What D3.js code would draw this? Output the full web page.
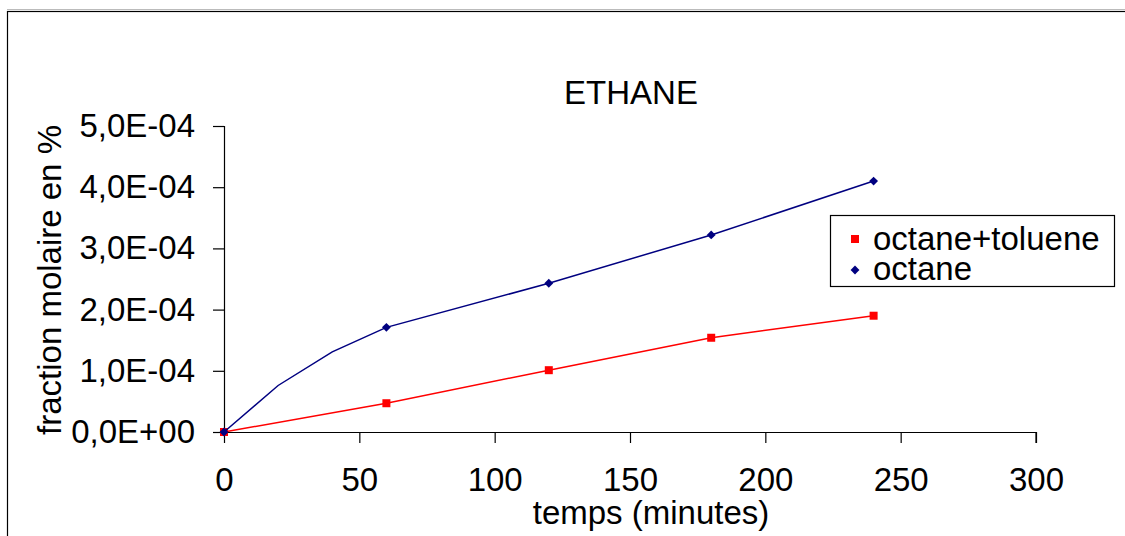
<!DOCTYPE html>
<html>
<head>
<meta charset="utf-8">
<script src="https://cdn.jsdelivr.net/npm/d3@7"></script>
<style>
  html, body { margin: 0; padding: 0; background: #fff; }
  svg { display: block; }
  text { font-family: "Liberation Sans", Arial, sans-serif; fill: #000; }
</style>
</head>
<body>
<svg id="chart" width="1125" height="536"></svg>
<script>
// ---- data ----
const title = "ETHANE";
const xLabel = "temps (minutes)";
const yLabel = "fraction molaire en %";
const xTicks = [0, 50, 100, 150, 200, 250, 300];
const yTicks = [0, 1e-4, 2e-4, 3e-4, 4e-4, 5e-4];
const yTickLabels = ["0,0E+00", "1,0E-04", "2,0E-04", "3,0E-04", "4,0E-04", "5,0E-04"];
const sampleTimes = [0, 60, 120, 180, 240];           // times with a plotted marker
const tolueneTimes = [0, 60, 120, 180, 240];
const tolueneValues = [0, 0.47e-4, 1.01e-4, 1.54e-4, 1.90e-4];
const octaneTimes = [0, 20, 40, 60, 120, 180, 240];
const octaneValues = [0, 0.76e-4, 1.31e-4, 1.71e-4, 2.43e-4, 3.22e-4, 4.10e-4];
const seriesNames = ["octane+toluene", "octane"];

// ---- layout ----
const svg = d3.select("#chart");
const FS = 33;
const x = d3.scaleLinear().domain([0, 300]).range([224, 1036]);
const y = d3.scaleLinear().domain([0, 5e-4]).range([432, 126]);

// outer frame
svg.append("line").attr("x1", 7).attr("x2", 1125).attr("y1", 9.5).attr("y2", 9.5)
  .attr("stroke", "#bbb").attr("stroke-width", 1);
svg.append("rect").attr("x", 7.5).attr("y", 11.5).attr("width", 1140).attr("height", 600)
  .attr("fill", "none").attr("stroke", "#000").attr("stroke-width", 1.2);

// title
svg.append("text").attr("x", 631).attr("y", 104).attr("text-anchor", "middle")
  .style("font-size", FS + "px").text(title);

// axes
const xAxis = d3.axisBottom(x).tickValues(xTicks).tickSize(11).tickPadding(25);
const gx = svg.append("g").attr("transform", "translate(0,432)").call(xAxis);
gx.select(".domain").attr("d", `M${x(0)},0.5H${x(300)}V11`).attr("stroke", "#000").attr("stroke-width", 1.2);
gx.selectAll(".tick line").attr("stroke", "#000").attr("stroke-width", 1.2);
gx.selectAll(".tick text").style("font-size", FS + "px").style("font-family", "Liberation Sans, Arial, sans-serif")
  .attr("fill", "#000").attr("dy", "0.71em");

const yAxis = d3.axisLeft(y).tickValues(yTicks).tickSize(11).tickPadding(18)
  .tickFormat((d, i) => yTickLabels[i]);
const gy = svg.append("g").attr("transform", "translate(224,0)").call(yAxis);
gy.select(".domain").attr("d", `M0.5,${y(5e-4)}V${y(0)}`).attr("stroke", "#000").attr("stroke-width", 1.2);
gy.selectAll(".tick line").attr("stroke", "#000").attr("stroke-width", 1.2);
gy.selectAll(".tick text").style("font-size", FS + "px").style("font-family", "Liberation Sans, Arial, sans-serif")
  .attr("fill", "#000");

// axis titles
svg.append("text").attr("x", 651).attr("y", 524).attr("text-anchor", "middle")
  .style("font-size", FS + "px").text(xLabel);
svg.append("text").attr("transform", "translate(61,280) rotate(-90)").attr("text-anchor", "middle")
  .style("font-size", FS + "px").text(yLabel);

// series
const line = d3.line().x(d => x(d[0])).y(d => y(d[1]));
const tol = tolueneTimes.map((t, i) => [t, tolueneValues[i]]);
const oct = octaneTimes.map((t, i) => [t, octaneValues[i]]);

svg.append("path").datum(tol).attr("d", line).attr("fill", "none")
  .attr("stroke", "#ff0000").attr("stroke-width", 1.5);
svg.selectAll(".mtol").data(tol.filter(d => sampleTimes.includes(d[0]))).enter().append("rect")
  .attr("x", d => x(d[0]) - 4).attr("y", d => y(d[1]) - 4)
  .attr("width", 8).attr("height", 8).attr("fill", "#ff0000");

svg.append("path").datum(oct).attr("d", line).attr("fill", "none")
  .attr("stroke", "#000080").attr("stroke-width", 1.5);
const diamond = d3.symbol().type(d3.symbolDiamond2).size(50);
svg.selectAll(".moct").data(oct.filter(d => sampleTimes.includes(d[0]))).enter().append("path")
  .attr("d", diamond).attr("transform", d => `translate(${x(d[0])},${y(d[1])})`)
  .attr("fill", "#000080");

// legend
const lg = svg.append("g");
lg.append("rect").attr("x", 830.5).attr("y", 215.5).attr("width", 284).attr("height", 71)
  .attr("fill", "#fff").attr("stroke", "#000").attr("stroke-width", 1.2);
lg.append("rect").attr("x", 851).attr("y", 235).attr("width", 8).attr("height", 8).attr("fill", "#ff0000");
lg.append("path").attr("d", diamond).attr("transform", "translate(855,270)").attr("fill", "#000080");
lg.append("text").attr("x", 873).attr("y", 250).style("font-size", FS + "px").text(seriesNames[0]);
lg.append("text").attr("x", 873).attr("y", 280).style("font-size", FS + "px").text(seriesNames[1]);
</script>
</body>
</html>
